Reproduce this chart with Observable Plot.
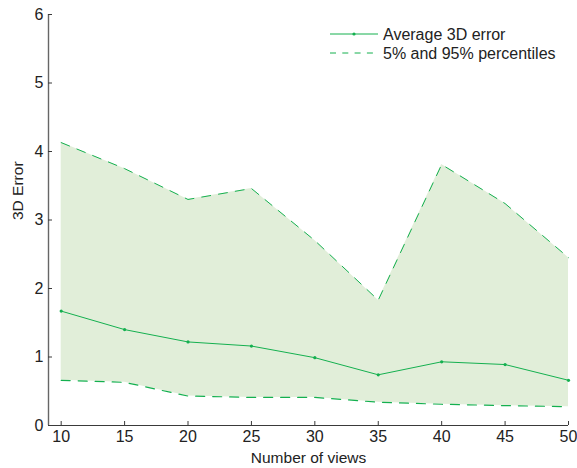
<!DOCTYPE html>
<html>
<head>
<meta charset="utf-8">
<script src="https://cdn.jsdelivr.net/npm/d3@7"></script>
<script src="https://cdn.jsdelivr.net/npm/@observablehq/plot@0.6"></script>
<style>
  html, body { margin: 0; padding: 0; background: #fff; }
  #chart { position: relative; width: 577px; height: 468px; }
  #chart svg { font-family: "Liberation Sans", Arial, Helvetica, sans-serif; }
</style>
</head>
<body>
<div id="chart"></div>
<script>
const views = [10, 15, 20, 25, 30, 35, 40, 45, 50];
const meanErr = [1.67, 1.40, 1.22, 1.16, 0.99, 0.74, 0.93, 0.89, 0.66];
const p5 = [0.66, 0.63, 0.43, 0.41, 0.41, 0.34, 0.31, 0.29, 0.275];
const p95 = [4.13, 3.75, 3.30, 3.46, 2.70, 1.83, 3.81, 3.24, 2.45];
const xTicks = [10, 15, 20, 25, 30, 35, 40, 45, 50];
const yTicks = [0, 1, 2, 3, 4, 5, 6];
const legendLabels = ["Average 3D error", "5% and 95% percentiles"];

const lineColor = "#14b04f";
const fillColor = "#e1eed9";
const axisColor = "#3a3a3a";

const data = views.map((v, i) => ({views: v, mean: meanErr[i], lo: p5[i], hi: p95[i]}));

const plot = Plot.plot({
  width: 577,
  height: 468,
  marginLeft: 48,
  marginRight: 9,
  marginTop: 14,
  marginBottom: 43,
  style: {fontSize: "16px", color: "#222", background: "#fff"},
  x: {domain: [9, 50]},
  y: {domain: [0, 6]},
  marks: [
    Plot.areaY(data, {x: "views", y1: "lo", y2: "hi", fill: fillColor, curve: "linear"}),
    Plot.lineY(data, {x: "views", y: "hi", stroke: lineColor, strokeWidth: 1, strokeDasharray: "9,8"}),
    Plot.lineY(data, {x: "views", y: "lo", stroke: lineColor, strokeWidth: 1.2, strokeDasharray: "9,8"}),
    Plot.lineY(data, {x: "views", y: "mean", stroke: lineColor, strokeWidth: 1}),
    Plot.dot(data, {x: "views", y: "mean", r: 1.6, fill: lineColor}),
    Plot.ruleY([0], {stroke: axisColor, strokeWidth: 1.2}),
    Plot.ruleX([9], {stroke: "#666", strokeWidth: 1.4}),
    Plot.axisX(xTicks, {ticks: xTicks, tickSize: -4, tickPadding: 9, tickFormat: d => String(d), stroke: axisColor, label: null, fontSize: 16}),
    Plot.axisY(yTicks, {ticks: yTicks, tickSize: -4, tickPadding: 9, tickFormat: d => String(d), stroke: axisColor, label: null, fontSize: 16}),
    Plot.text(["Number of views"], {frameAnchor: "bottom", dy: 33, lineAnchor: "middle", fontSize: 15.5, fill: "#222"}),
    Plot.text(["3D Error"], {frameAnchor: "left", dx: -30, rotate: -90, lineAnchor: "middle", fontSize: 15.5, fill: "#222"})
  ]
});

document.getElementById("chart").appendChild(plot);

// Legend (inside plot area, top right)
const svg = d3.select(plot);
const lg = svg.append("g")
  .attr("font-family", "Liberation Sans, Arial, Helvetica, sans-serif")
  .attr("font-size", 16)
  .attr("fill", "#222")
  .attr("text-anchor", "start");
const rows = [34, 53];
lg.append("line").attr("x1", 330).attr("x2", 378).attr("y1", rows[0]).attr("y2", rows[0]).attr("stroke", lineColor).attr("stroke-width", 1);
lg.append("circle").attr("cx", 354).attr("cy", rows[0]).attr("r", 1.6).attr("fill", lineColor);
lg.append("line").attr("x1", 330).attr("x2", 378).attr("y1", rows[1]).attr("y2", rows[1]).attr("stroke", lineColor).attr("stroke-width", 1).attr("stroke-dasharray", "6,6.3");
legendLabels.forEach((t, i) => {
  lg.append("text").attr("x", 383).attr("y", rows[i]).attr("dy", "0.35em").attr("text-anchor", "start").text(t);
});
</script>
</body>
</html>
